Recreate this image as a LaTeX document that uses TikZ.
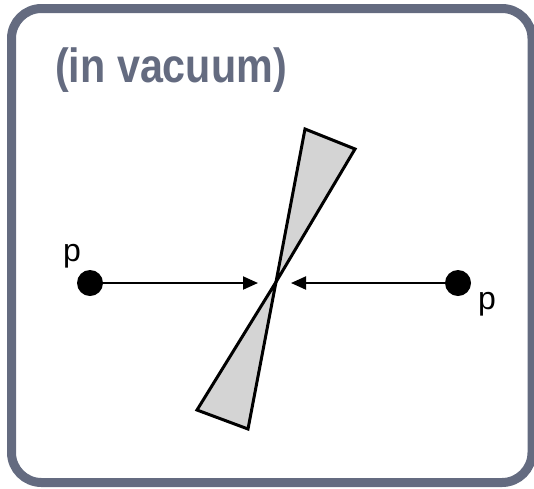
\documentclass[tikz,border=0pt]{standalone}
\usepackage{fontspec}
\setmainfont{Liberation Sans}
\usetikzlibrary{arrows.meta}
\definecolor{framegray}{HTML}{646B80}
\definecolor{conegray}{HTML}{D4D4D4}
\tikzset{
  particle/.style={circle, fill=black, inner sep=0pt, minimum size=26pt},
  beam/.style={line width=2pt, -{Triangle[length=15pt,width=13pt]}},
  plabel/.style={font=\fontsize{32}{34}\selectfont, inner sep=0pt}
}

\begin{document}
\begin{tikzpicture}[x=1pt, y=-1pt]
  \useasboundingbox (0,0) rectangle (534,488);
  \draw[framegray, line width=9pt, rounded corners=30pt] (11.5,8.5) rectangle (532,482.5);
  \node[anchor=base west, inner sep=0pt, text=framegray, font=\bfseries\fontsize{48}{50}\selectfont] (title) at (55,82) {\scalebox{0.86}[1]{(in vacuum)}};
  % colliding beams
  \node[particle] (pL) at (90,283) {};
  \node[particle] (pR) at (458,283) {};
  \node[plabel, anchor=base] (lL) at (72,261) {p};
  \node[plabel, anchor=base] (lR) at (487,309) {p};
  \coordinate (ip) at (276,282);
  \coordinate (tipL) at (258,283);
  \coordinate (tipR) at (291,283);
  % detector cones
  \filldraw[fill=conegray, line width=3pt, line join=miter] (ip) -- (305,129) -- (355,149) -- cycle;
  \filldraw[fill=conegray, line width=3pt, line join=miter] (ip) -- (197,410) -- (248,429) -- cycle;
  \draw[beam] (pL) -- (tipL);
  \draw[beam] (pR) -- (tipR);
\end{tikzpicture}
\end{document}
